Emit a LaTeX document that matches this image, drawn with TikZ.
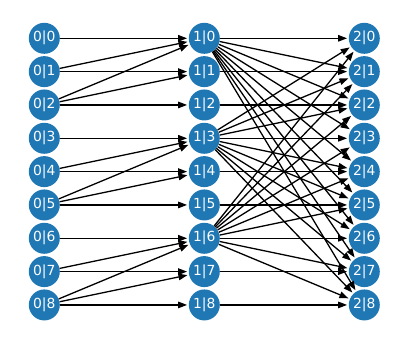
\documentclass[tikz,border=0pt]{standalone}
\usepackage{fontspec}
\setmainfont{DejaVu Sans}
\usetikzlibrary{arrows.meta}
\definecolor{nodeblue}{HTML}{1F77B4}

\tikzset{
    vertex/.style={circle, fill=nodeblue, text=white, inner sep=0pt,
        minimum size=31pt, font=\fontsize{13.9}{16}\selectfont},
    link/.style={black, line width=1.3pt, shorten >=1.5pt,
        -{Triangle[length=9pt,width=6.5pt]}}
}

\begin{document}
\begin{tikzpicture}[x=1pt, y=1pt]
        % Fix the frame
        \useasboundingbox (0,0) rectangle (407,-343);
        % Draw the three layers of nodes
        \foreach \i in {0,1,2}
            \foreach \j in {0,...,8}
                \node[vertex] (n\i-\j) at ({44.3+160*\i}, {-38.3-33.33*\j}) {\i|\j};
        % Connect layer 0 to layer 1
        \foreach \a in {0,3,6}
            \foreach \b in {0,1,2}
                \foreach \c in {0,...,\b}
                    {\pgfmathtruncatemacro{\s}{\a+\b}
                     \pgfmathtruncatemacro{\t}{\a+\c}
                     \draw[link] (n0-\s) -- (n1-\t);}
        % Connect layer 1 to layer 2
        \foreach \k in {1,2,4,5,7,8}
            \draw[link] (n1-\k) -- (n2-\k);
        \foreach \a in {0,3,6}
            \foreach \k in {0,...,8}
                \draw[link] (n1-\a) -- (n2-\k);
    \end{tikzpicture}
\end{document}
